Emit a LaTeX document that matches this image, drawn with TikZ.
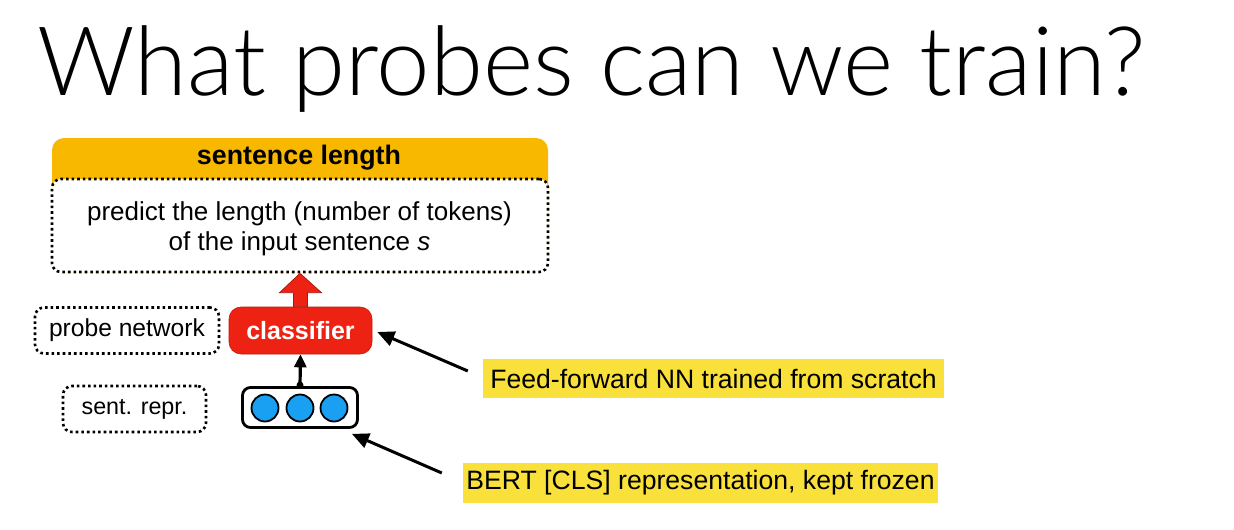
\documentclass[tikz,border=0pt]{standalone}
\usepackage{fontspec}
\setmainfont{Liberation Sans}
\newfontfamily\titlefont{Lato Light}
\usetikzlibrary{arrows.meta,calc}

\definecolor{cardorange}{HTML}{F8B800}
\definecolor{clsred}{HTML}{EE2212}
\definecolor{unitblue}{HTML}{1AA0F2}
\definecolor{notey}{HTML}{F9E03B}

\tikzset{
  dotbox/.style={draw=black, line width=2.6pt, dash pattern=on 2.6pt off 3pt,
    rounded corners=9pt, inner sep=0pt},
  txt/.style={font=\fontsize{26}{30}\selectfont, align=center, inner sep=0pt},
  note/.style={fill=notey, inner sep=0pt, font=\fontsize{26.6}{30}\selectfont},
  pointer/.style={line width=3pt, -{Triangle[length=17pt,width=15pt]}},
}

\begin{document}
\begin{tikzpicture}[x=1pt,y=-1pt]
\useasboundingbox (0,0) rectangle (1234,530);

% title
\node[anchor=base west, inner sep=0pt] (title) at (37,95)
  {\titlefont\fontsize{96}{100}\selectfont What probes can we train?};

% task card: orange header with dotted white body
\node[fill=cardorange, rounded corners=12pt, minimum width=496, minimum height=134, inner sep=0pt] (card) at (300,205) {};
\node[font=\bfseries\fontsize{26.8}{30}\selectfont, inner sep=0pt] (head) at (299,158) {sentence length};
\node[dotbox, fill=white, minimum width=496, minimum height=93] (body) at (300,225.5) {};
\node[txt, anchor=base] (task) at (299.5,250)
  {predict the length (number of tokens)\\of the input sentence \textit{s}};

% probe network row
\node[dotbox, minimum width=184, minimum height=46, font=\fontsize{24.6}{30}\selectfont] (probe) at (127,330.5) {probe network};
\node[fill=clsred, draw=clsred!80!black, line width=0.6pt, rounded corners=12pt, minimum width=143, minimum height=47,
  text=white, font=\bfseries\fontsize{25}{30}\selectfont, inner sep=0pt] (cls) at (300.5,330.5) {classifier};

% sentence representation row
\node[dotbox, minimum width=143, minimum height=46, font=\fontsize{23.3}{30}\selectfont] (sent) at (134.5,409) {sent. repr.};
\node[draw=black, line width=2.8pt, rounded corners=8pt, minimum width=115, minimum height=40, inner sep=0pt] (rep) at (300,407.5) {};
\foreach \i/\x in {1/265,2/300,3/334}
  \node[circle, fill=unitblue, draw=black, line width=1.8pt, minimum size=27, inner sep=0pt] (u\i) at (\x,408) {};

% fat red arrow from classifier to task card
\draw[fill=clsred, draw=clsred!70!black, line width=0.7pt, line join=miter]
  ($(cls.north)+(-7,0)$) -- ($(cls.north)+(-7,-14)$) -- ($(cls.north)+(-21,-14)$)
  -- (body.south) -- ($(cls.north)+(21,-14)$) -- ($(cls.north)+(7,-14)$)
  -- ($(cls.north)+(7,0)$) -- cycle;

% representation feeds classifier
\fill ($(rep.north)+(0,-1)$) circle (3.5pt);
\draw[line width=3.2pt, -{Triangle[length=13pt,width=12pt]}] (rep.north) -- (cls.south);

% annotations
\node[note, minimum width=461, minimum height=39] (n1) at (713.5,378.5) {Feed-forward NN trained from scratch};
\node[note, minimum width=475, minimum height=40] (n2) at (700.5,483) {BERT [CLS] representation, kept frozen};
\coordinate (t1) at ($(n1.west)+(-15,-7.5)$);
\coordinate (t2) at ($(n2.west)+(-21,-10)$);
\draw[pointer] (t1) -- ($(cls.east)+(5,1.5)$);
\draw[pointer] (t2) -- ($(rep.south east)+(-7,5)$);
\end{tikzpicture}
\end{document}
